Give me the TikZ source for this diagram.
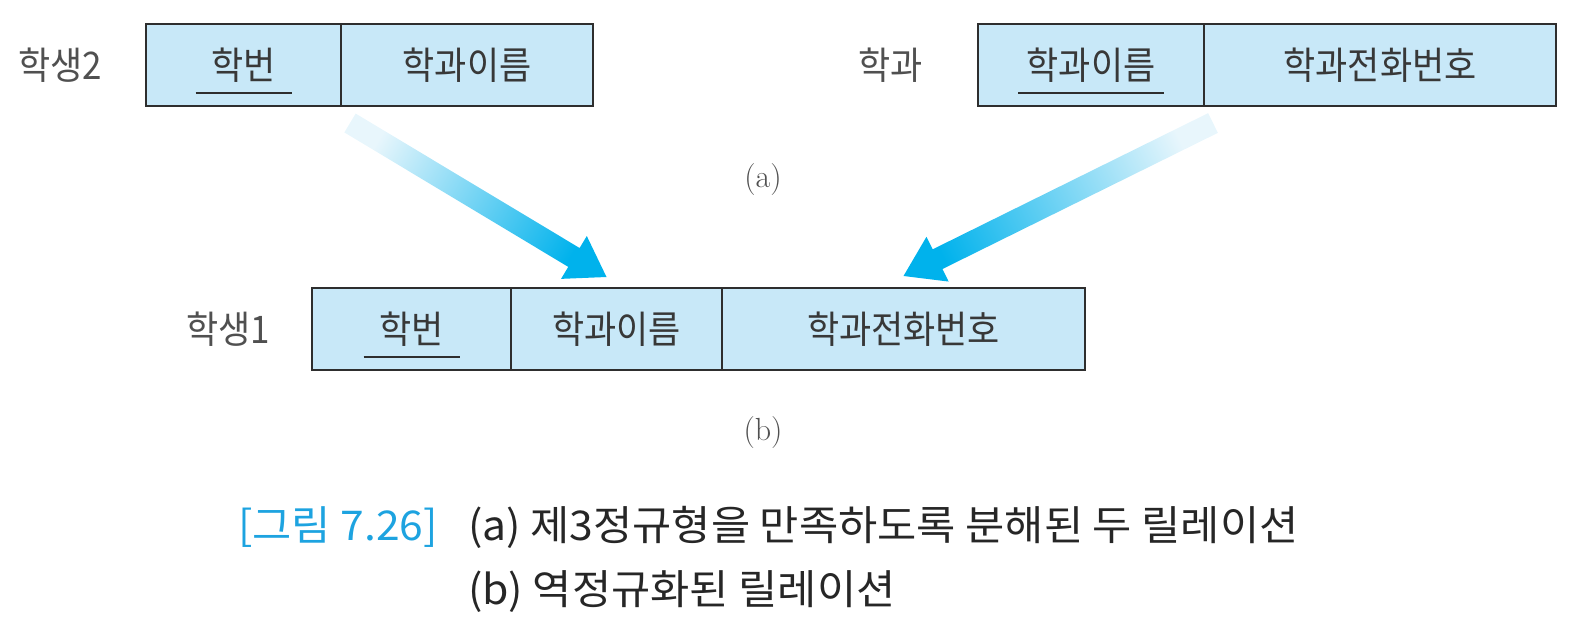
\documentclass[tikz,border=0pt]{standalone}
\usepackage{fontspec}
\usetikzlibrary{positioning,calc}
\newfontfamily\korfont[FakeStretch=1.04]{Noto Sans CJK KR}
\newfontfamily\korcond[FakeStretch=0.92]{Noto Sans CJK KR}
\definecolor{cellfill}{HTML}{C8E8F8}
\definecolor{cellline}{HTML}{2E2E2E}
\definecolor{celltext}{HTML}{383838}
\definecolor{relgray}{HTML}{505050}
\definecolor{figblue}{HTML}{1DA3E0}
\definecolor{arrowdark}{HTML}{00B2EC}
\definecolor{arrowlight}{HTML}{E8F6FC}
\newcommand{\shadedarrow}[3]{%
	\coordinate (#1neck) at ($(#2)!38pt!(#1)$);
	\shade[bigarrow, shading angle=#3] ($(#1)!11pt!90:(#2)$) -- ($(#1neck)!11pt!90:(#2)$) -- ($(#1neck)!25pt!90:(#2)$) -- (#2)
		-- ($(#1neck)!25pt!-90:(#2)$) -- ($(#1neck)!11pt!-90:(#2)$) -- ($(#1)!11pt!-90:(#2)$) -- cycle;}
\begin{document}
\begin{tikzpicture}[x=1pt, y=-1pt,
		cell/.style={draw=cellline, fill=cellfill, line width=2pt, minimum height=82pt, inner sep=0pt, outer sep=0pt, anchor=north west, text=celltext, font=\korcond\fontsize{38}{42}\selectfont},
		relname/.style={inner sep=0pt, text=relgray, font=\korcond\fontsize{38}{42}\selectfont},
		sublabel/.style={inner sep=0pt, text=relgray, font=\fontsize{32}{36}\selectfont},
		captext/.style={inner sep=0pt, anchor=west, text=black!85, font=\korfont\fontsize{41}{46}\selectfont},
		keyline/.style={draw=cellline, line width=2pt},
		bigarrow/.style={top color=arrowdark, bottom color=arrowlight}]
	\useasboundingbox (0,0) rectangle (1584,634);
	\node[cell, minimum width=195pt] (s2a) at (146,24) {학번};
	\node[cell, minimum width=252pt, right=0pt of s2a] (s2b) {학과이름};
	\node[relname, left=44pt of s2a] (s2name) {학생2};
	\draw[keyline] ([xshift=-48pt,yshift=13pt]s2a.south) -- ([xshift=48pt,yshift=13pt]s2a.south);

	\node[cell, minimum width=226pt] (dpa) at (978,24) {학과이름};
	\node[cell, minimum width=352pt, right=0pt of dpa] (dpb) {학과전화번호};
	\node[relname, left=55pt of dpa] (dpname) {학과};
	\draw[keyline] ([xshift=-73pt,yshift=13pt]dpa.south) -- ([xshift=73pt,yshift=13pt]dpa.south);

	\node[sublabel] (laba) at (763,180) {(a)};

	\node[cell, minimum width=199pt] (s1a) at (312,288) {학번};
	\node[cell, minimum width=211pt, right=0pt of s1a] (s1b) {학과이름};
	\node[cell, minimum width=363pt, right=0pt of s1b] (s1c) {학과전화번호};
	\node[relname, left=42pt of s1a] (s1name) {학생1};
	\draw[keyline] ([xshift=-48pt,yshift=13pt]s1a.south) -- ([xshift=48pt,yshift=13pt]s1a.south);

	\node[sublabel] (labb) at (763,433) {(b)};

	\coordinate (ta) at ([xshift=9pt,yshift=-17pt]s2a.south east);
	\coordinate (ha) at ([xshift=-10pt,yshift=11pt]s1b.north);
	\coordinate (tb) at ([xshift=9pt,yshift=-17pt]dpa.south east);
	\coordinate (hb) at ([yshift=12pt]s1c.north);
	\shadedarrow{ta}{ha}{-121}
	\shadedarrow{tb}{hb}{116}

	\node[captext] (capa) at (468,527) {(a) 제3정규형을 만족하도록 분해된 두 릴레이션};
	\node[captext, text=figblue, left=30pt of capa] (capfig) {[그림 7.26]};
	\node[captext] (capb) at ([yshift=-65pt]capa.west) {(b) 역정규화된 릴레이션};
\end{tikzpicture}
\end{document}
